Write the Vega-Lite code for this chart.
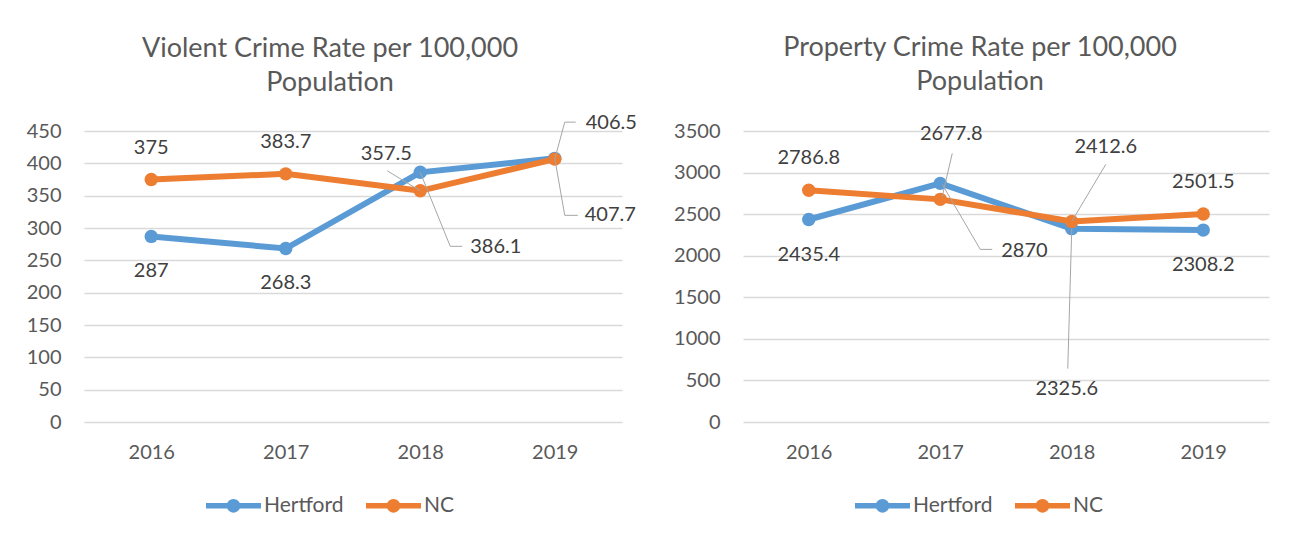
{
  "$schema": "https://vega.github.io/schema/vega-lite/v6.json",
  "background": "white",
  "padding": {"left": 26, "top": 34, "right": 5, "bottom": 5},
  "bounds": "flush",
  "spacing": 121,
  "datasets": {
    "violent": [
      {"year": "2016", "series": "Hertford", "value": 287},
      {"year": "2017", "series": "Hertford", "value": 268.3},
      {"year": "2018", "series": "Hertford", "value": 386.1},
      {"year": "2019", "series": "Hertford", "value": 407.7},
      {"year": "2016", "series": "NC", "value": 375},
      {"year": "2017", "series": "NC", "value": 383.7},
      {"year": "2018", "series": "NC", "value": 357.5},
      {"year": "2019", "series": "NC", "value": 406.5}
    ],
    "property": [
      {"year": "2016", "series": "Hertford", "value": 2435.4},
      {"year": "2017", "series": "Hertford", "value": 2870},
      {"year": "2018", "series": "Hertford", "value": 2325.6},
      {"year": "2019", "series": "Hertford", "value": 2308.2},
      {"year": "2016", "series": "NC", "value": 2786.8},
      {"year": "2017", "series": "NC", "value": 2677.8},
      {"year": "2018", "series": "NC", "value": 2412.6},
      {"year": "2019", "series": "NC", "value": 2501.5}
    ]
  },
  "resolve": {"scale": {"color": "independent", "x": "independent", "y": "independent"}, "legend": {"color": "independent"}},
  "hconcat": [
    {
      "width": 538,
      "height": 291,
      "data": {"name": "violent"},
      "title": {"text": ["Violent Crime Rate per 100,000", "Population"], "fontSize": 27, "fontWeight": "normal", "font": "Lato", "color": "#595959", "lineHeight": 34, "dx": -23, "offset": 16, "anchor": "middle"},
      "encoding": {
        "x": {"field": "year", "type": "ordinal", "scale": {"type": "point", "padding": 0.5}, "axis": {"title": null, "labelAngle": 0, "domain": false, "ticks": false, "grid": false, "labelPadding": 20}},
        "y": {"field": "value", "type": "quantitative", "scale": {"domain": [0, 450], "nice": false}, "axis": {"title": null, "format": "d", "values": [0, 50, 100, 150, 200, 250, 300, 350, 400, 450], "domain": false, "ticks": false, "grid": true, "labelPadding": 23}}
      },
      "layer": [
        {
          "mark": {"type": "line", "strokeWidth": 6},
          "encoding": {"color": {"field": "series", "type": "nominal", "scale": {"domain": ["Hertford", "NC"], "range": ["#5b9bd5", "#ed7d31"]},
            "legend": {"orient": "none", "legendX": 122, "legendY": 347, "direction": "horizontal", "title": null, "padding": 0,
              "symbolType": "M-1,-0.1L1,-0.1L1,0.1L-1,0.1Z M0.25,0 A0.25,0.25 0 1,1 -0.25,0 A0.25,0.25 0 1,1 0.25,0 Z",
              "symbolSize": 3025, "symbolStrokeWidth": 0, "labelFont": "Lato", "labelFontSize": 21, "labelColor": "#595959", "labelOffset": 3, "columnPadding": 22}}}
        },
        {
          "mark": {"type": "point", "filled": true, "size": 180, "opacity": 1},
          "encoding": {"color": {"field": "series", "type": "nominal", "scale": {"domain": ["Hertford", "NC"], "range": ["#5b9bd5", "#ed7d31"]},
            "legend": {"orient": "none", "legendX": 122, "legendY": 347, "direction": "horizontal", "title": null, "padding": 0,
              "symbolType": "M-1,-0.1L1,-0.1L1,0.1L-1,0.1Z M0.25,0 A0.25,0.25 0 1,1 -0.25,0 A0.25,0.25 0 1,1 0.25,0 Z",
              "symbolSize": 3025, "symbolStrokeWidth": 0, "labelFont": "Lato", "labelFontSize": 21, "labelColor": "#595959", "labelOffset": 3, "columnPadding": 22}}}
        },
        {"transform": [{"filter": "datum.series == 'NC' && (datum.year == '2016' || datum.year == '2017')"}],
         "mark": {"type": "text", "dy": -32, "font": "Lato", "fontSize": 20, "color": "#404040"},
         "encoding": {"text": {"field": "value", "type": "nominal"}}},
        {"transform": [{"filter": "datum.series == 'Hertford' && (datum.year == '2016' || datum.year == '2017')"}],
         "mark": {"type": "text", "dy": 35, "font": "Lato", "fontSize": 20, "color": "#404040"},
         "encoding": {"text": {"field": "value", "type": "nominal"}}},
        {"transform": [{"filter": "datum.series == 'NC' && datum.year == '2018'"}],
         "mark": {"type": "text", "dx": -34, "dy": -37, "font": "Lato", "fontSize": 20, "color": "#404040"},
         "encoding": {"text": {"field": "value", "type": "nominal"}}},
        {"transform": [{"filter": "datum.series == 'NC' && datum.year == '2018'"}],
         "mark": {"type": "rule", "color": "#a6a6a6", "strokeWidth": 1, "x2Offset": -33, "y2Offset": -20},
         "encoding": {"x2": {"field": "year"}, "y2": {"field": "value"}}},
        {"transform": [{"filter": "datum.series == 'Hertford' && datum.year == '2018'"}],
         "mark": {"type": "text", "align": "left", "dx": 50, "dy": 75, "font": "Lato", "fontSize": 20, "color": "#404040"},
         "encoding": {"text": {"field": "value", "type": "nominal"}}},
        {"transform": [{"filter": "datum.series == 'Hertford' && datum.year == '2018'"}],
         "mark": {"type": "rule", "color": "#a6a6a6", "strokeWidth": 1, "x2Offset": 30, "y2Offset": 74},
         "encoding": {"x2": {"field": "year"}, "y2": {"field": "value"}}},
        {"transform": [{"filter": "datum.series == 'Hertford' && datum.year == '2018'"}],
         "mark": {"type": "rule", "color": "#a6a6a6", "strokeWidth": 1, "xOffset": 30, "yOffset": 74, "x2Offset": 42, "y2Offset": 74},
         "encoding": {"x2": {"field": "year"}, "y2": {"field": "value"}}},
        {"transform": [{"filter": "datum.series == 'NC' && datum.year == '2019'"}],
         "mark": {"type": "text", "align": "left", "dx": 31, "dy": -36, "font": "Lato", "fontSize": 20, "color": "#404040"},
         "encoding": {"text": {"field": "value", "type": "nominal"}}},
        {"transform": [{"filter": "datum.series == 'NC' && datum.year == '2019'"}],
         "mark": {"type": "rule", "color": "#a6a6a6", "strokeWidth": 1, "x2Offset": 10, "y2Offset": -37},
         "encoding": {"x2": {"field": "year"}, "y2": {"field": "value"}}},
        {"transform": [{"filter": "datum.series == 'NC' && datum.year == '2019'"}],
         "mark": {"type": "rule", "color": "#a6a6a6", "strokeWidth": 1, "xOffset": 10, "yOffset": -37, "x2Offset": 21, "y2Offset": -37},
         "encoding": {"x2": {"field": "year"}, "y2": {"field": "value"}}},
        {"transform": [{"filter": "datum.series == 'Hertford' && datum.year == '2019'"}],
         "mark": {"type": "text", "align": "left", "dx": 30, "dy": 57, "font": "Lato", "fontSize": 20, "color": "#404040"},
         "encoding": {"text": {"field": "value", "type": "nominal"}}},
        {"transform": [{"filter": "datum.series == 'Hertford' && datum.year == '2019'"}],
         "mark": {"type": "rule", "color": "#a6a6a6", "strokeWidth": 1, "x2Offset": 10, "y2Offset": 57},
         "encoding": {"x2": {"field": "year"}, "y2": {"field": "value"}}},
        {"transform": [{"filter": "datum.series == 'Hertford' && datum.year == '2019'"}],
         "mark": {"type": "rule", "color": "#a6a6a6", "strokeWidth": 1, "xOffset": 10, "yOffset": 57, "x2Offset": 23, "y2Offset": 57},
         "encoding": {"x2": {"field": "year"}, "y2": {"field": "value"}}}
      ]
    },
    {
      "width": 526,
      "height": 291,
      "data": {"name": "property"},
      "title": {"text": ["Property Crime Rate per 100,000", "Population"], "fontSize": 27, "fontWeight": "normal", "font": "Lato", "color": "#595959", "lineHeight": 34, "dx": -26, "offset": 25, "anchor": "middle"},
      "encoding": {
        "x": {"field": "year", "type": "ordinal", "scale": {"type": "point", "padding": 0.5}, "axis": {"title": null, "labelAngle": 0, "domain": false, "ticks": false, "grid": false, "labelPadding": 20}},
        "y": {"field": "value", "type": "quantitative", "scale": {"domain": [0, 3500], "nice": false}, "axis": {"title": null, "format": "d", "values": [0, 500, 1000, 1500, 2000, 2500, 3000, 3500], "domain": false, "ticks": false, "grid": true, "labelPadding": 23}}
      },
      "layer": [
        {
          "mark": {"type": "line", "strokeWidth": 6},
          "encoding": {"color": {"field": "series", "type": "nominal", "scale": {"domain": ["Hertford", "NC"], "range": ["#5b9bd5", "#ed7d31"]},
            "legend": {"orient": "none", "legendX": 112, "legendY": 347, "direction": "horizontal", "title": null, "padding": 0,
              "symbolType": "M-1,-0.1L1,-0.1L1,0.1L-1,0.1Z M0.25,0 A0.25,0.25 0 1,1 -0.25,0 A0.25,0.25 0 1,1 0.25,0 Z",
              "symbolSize": 3025, "symbolStrokeWidth": 0, "labelFont": "Lato", "labelFontSize": 21, "labelColor": "#595959", "labelOffset": 3, "columnPadding": 22}}}
        },
        {
          "mark": {"type": "point", "filled": true, "size": 180, "opacity": 1},
          "encoding": {"color": {"field": "series", "type": "nominal", "scale": {"domain": ["Hertford", "NC"], "range": ["#5b9bd5", "#ed7d31"]},
            "legend": {"orient": "none", "legendX": 112, "legendY": 347, "direction": "horizontal", "title": null, "padding": 0,
              "symbolType": "M-1,-0.1L1,-0.1L1,0.1L-1,0.1Z M0.25,0 A0.25,0.25 0 1,1 -0.25,0 A0.25,0.25 0 1,1 0.25,0 Z",
              "symbolSize": 3025, "symbolStrokeWidth": 0, "labelFont": "Lato", "labelFontSize": 21, "labelColor": "#595959", "labelOffset": 3, "columnPadding": 22}}}
        },
        {"transform": [{"filter": "datum.series == 'NC' && (datum.year == '2016' || datum.year == '2019')"}],
         "mark": {"type": "text", "dy": -32, "font": "Lato", "fontSize": 20, "color": "#404040"},
         "encoding": {"text": {"field": "value", "type": "nominal"}}},
        {"transform": [{"filter": "datum.series == 'Hertford' && (datum.year == '2016' || datum.year == '2019')"}],
         "mark": {"type": "text", "dy": 35, "font": "Lato", "fontSize": 20, "color": "#404040"},
         "encoding": {"text": {"field": "value", "type": "nominal"}}},
        {"transform": [{"filter": "datum.series == 'NC' && datum.year == '2017'"}],
         "mark": {"type": "text", "dx": 11, "dy": -65, "font": "Lato", "fontSize": 20, "color": "#404040"},
         "encoding": {"text": {"field": "value", "type": "nominal"}}},
        {"transform": [{"filter": "datum.series == 'NC' && datum.year == '2017'"}],
         "mark": {"type": "rule", "color": "#a6a6a6", "strokeWidth": 1, "xOffset": 2, "yOffset": -3, "x2Offset": 12, "y2Offset": -46},
         "encoding": {"x2": {"field": "year"}, "y2": {"field": "value"}}},
        {"transform": [{"filter": "datum.series == 'Hertford' && datum.year == '2017'"}],
         "mark": {"type": "text", "align": "left", "dx": 61, "dy": 68, "font": "Lato", "fontSize": 20, "color": "#404040"},
         "encoding": {"text": {"field": "value", "type": "nominal"}}},
        {"transform": [{"filter": "datum.series == 'Hertford' && datum.year == '2017'"}],
         "mark": {"type": "rule", "color": "#a6a6a6", "strokeWidth": 1, "xOffset": 2, "yOffset": 1, "x2Offset": 40, "y2Offset": 66},
         "encoding": {"x2": {"field": "year"}, "y2": {"field": "value"}}},
        {"transform": [{"filter": "datum.series == 'Hertford' && datum.year == '2017'"}],
         "mark": {"type": "rule", "color": "#a6a6a6", "strokeWidth": 1, "xOffset": 40, "yOffset": 66, "x2Offset": 52, "y2Offset": 66},
         "encoding": {"x2": {"field": "year"}, "y2": {"field": "value"}}},
        {"transform": [{"filter": "datum.series == 'NC' && datum.year == '2018'"}],
         "mark": {"type": "text", "dx": 34, "dy": -74, "font": "Lato", "fontSize": 20, "color": "#404040"},
         "encoding": {"text": {"field": "value", "type": "nominal"}}},
        {"transform": [{"filter": "datum.series == 'NC' && datum.year == '2018'"}],
         "mark": {"type": "rule", "color": "#a6a6a6", "strokeWidth": 1, "xOffset": 34, "yOffset": -57, "x2Offset": 0, "y2Offset": 0},
         "encoding": {"x2": {"field": "year"}, "y2": {"field": "value"}}},
        {"transform": [{"filter": "datum.series == 'Hertford' && datum.year == '2018'"}],
         "mark": {"type": "text", "dx": -5, "dy": 160, "font": "Lato", "fontSize": 20, "color": "#404040"},
         "encoding": {"text": {"field": "value", "type": "nominal"}}},
        {"transform": [{"filter": "datum.series == 'Hertford' && datum.year == '2018'"}],
         "mark": {"type": "rule", "color": "#a6a6a6", "strokeWidth": 1, "x2Offset": -4, "y2Offset": 140},
         "encoding": {"x2": {"field": "year"}, "y2": {"field": "value"}}}
      ]
    }
  ],
  "config": {
    "font": "Lato",
    "view": {"stroke": null},
    "axis": {"labelFont": "Lato", "labelFontSize": 20, "labelColor": "#595959", "gridColor": "#d9d9d9", "gridWidth": 1.5}
  }
}
